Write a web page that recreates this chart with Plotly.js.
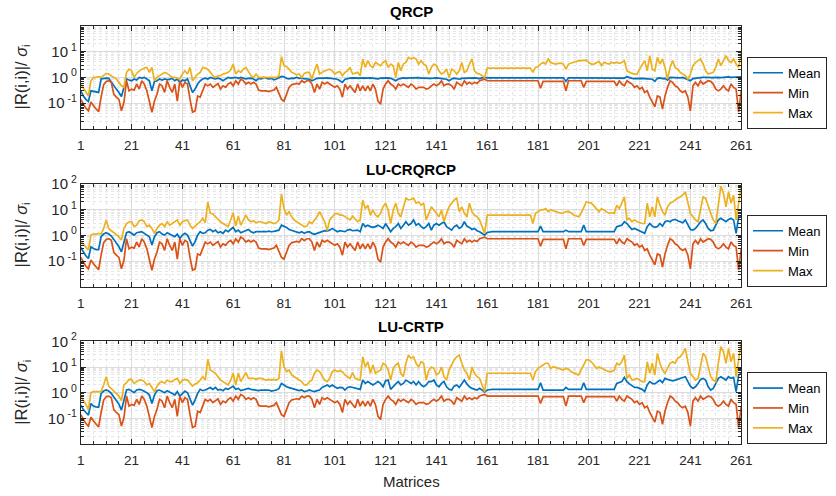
<!DOCTYPE html>
<html>
<head>
<meta charset="utf-8">
<script src="https://cdn.plot.ly/plotly-3.0.1.min.js"></script>
<style>html,body{margin:0;padding:0;background:#fff;}#chart{width:836px;height:496px;}</style>
</head>
<body>
<div id="chart"></div>
<script>
// ---- data ----
const subplotTitles = ["QRCP", "LU-CRQRCP", "LU-CRTP"];
const seriesNames = ["Mean", "Min", "Max"];
const xTickVals = [1, 21, 41, 61, 81, 101, 121, 141, 161, 181, 201, 221, 241, 261];

const minValues = [
0.14,0.09,0.063,0.05,0.11,0.079,0.063,0.046,0.17,0.52,
0.7,0.74,0.64,0.22,0.17,0.14,0.05,0.11,0.74,0.3,
0.35,0.32,0.55,0.35,0.74,0.55,0.3,0.11,0.044,0.12,
0.22,0.55,0.47,0.26,0.74,0.41,0.26,0.55,0.12,0.74,
0.41,0.64,0.55,0.14,0.044,0.05,0.19,0.17,0.3,0.55,
0.47,0.55,0.41,0.47,0.58,0.35,0.47,0.41,0.55,0.64,
0.47,0.74,0.55,0.86,0.74,0.55,0.64,0.55,0.64,0.55,
0.32,0.3,0.3,0.3,0.28,0.3,0.32,0.41,0.22,0.14,
0.12,0.22,0.41,0.52,0.55,0.58,0.55,0.74,0.64,0.74,
0.74,0.55,0.26,0.55,0.35,0.64,0.55,0.64,0.55,0.47,
0.41,0.47,0.35,0.17,0.55,0.35,0.47,0.35,0.26,0.55,
0.3,0.47,0.3,0.47,0.3,0.55,0.35,0.12,0.09,0.35,
0.55,0.74,0.55,0.47,0.35,0.55,0.47,0.55,0.47,0.41,
0.55,0.47,0.35,0.41,0.41,0.41,0.35,0.38,0.47,0.55,
0.47,0.55,0.74,0.47,0.55,0.55,0.47,0.35,0.64,0.55,
0.47,0.74,0.55,0.64,0.55,0.64,0.58,0.74,0.81,0.86,
0.74,0.74,0.74,0.74,0.74,0.74,0.74,0.74,0.74,0.74,
0.74,0.74,0.74,0.74,0.74,0.74,0.74,0.74,0.74,0.74,
0.74,0.38,0.7,0.7,0.7,0.7,0.7,0.7,0.7,0.7,
0.7,0.3,0.74,0.74,0.74,0.74,0.74,0.74,0.41,0.7,
0.7,0.7,0.7,0.7,0.7,0.7,0.7,0.7,0.7,0.7,
0.7,0.47,0.74,0.55,0.47,0.74,0.64,0.55,0.41,0.47,
0.35,0.41,0.26,0.3,0.17,0.11,0.072,0.19,0.17,0.059,
0.19,0.41,0.74,0.64,0.47,0.41,0.3,0.26,0.3,0.17,
0.05,0.47,0.64,0.47,0.74,0.55,0.64,0.74,0.7,0.55,
0.35,0.3,0.35,0.47,0.35,0.3,0.55,0.41,0.35,0.044,0.3
];

const meanQRCP = [
0.30,0.19,0.14,0.115,0.30,0.28,0.28,0.26,0.87,0.92,
0.94,0.92,0.64,0.47,0.35,0.26,0.18,0.41,0.87,0.79,
0.74,0.87,0.79,1.0,0.94,1.0,0.87,0.74,0.30,0.70,
0.74,0.87,0.79,0.87,0.81,0.87,0.92,0.74,0.87,0.64,
0.79,0.74,0.87,0.47,0.26,0.35,0.55,0.74,0.87,0.94,
0.87,1.0,0.92,0.87,0.94,0.87,0.74,0.87,1.0,0.94,
1.0,1.0,0.92,1.0,0.94,0.87,0.92,0.94,0.87,0.74,
0.92,0.87,1.0,0.92,0.87,0.92,0.81,0.87,0.94,1.09,
1.06,0.92,0.87,0.94,0.92,1.0,0.94,0.92,0.94,0.90,
0.85,0.74,0.85,0.92,0.94,0.92,0.94,0.96,0.94,0.92,
0.92,0.85,0.74,0.64,0.85,0.92,0.94,0.96,0.94,0.96,
0.94,0.96,0.92,0.94,0.96,0.94,0.92,0.87,0.94,0.96,
0.94,0.96,0.92,0.85,0.74,0.87,0.94,0.96,0.94,0.96,
0.98,0.94,0.96,0.98,0.94,0.96,0.94,0.92,0.96,0.94,
0.96,0.92,0.94,0.90,0.85,0.74,0.87,0.94,0.90,0.85,
0.92,0.94,0.96,0.92,0.94,0.96,0.94,0.90,0.96,1.0,
0.96,0.96,0.96,0.96,0.96,0.96,0.96,0.96,0.96,0.96,
0.96,0.96,0.96,0.96,0.96,0.96,0.96,0.96,0.96,0.96,
0.96,0.96,0.96,0.96,0.96,0.96,0.96,0.96,0.96,0.96,
0.96,0.70,0.96,0.96,0.96,0.96,0.96,0.96,0.96,0.96,
0.96,0.96,0.96,0.96,0.96,0.96,0.96,0.96,0.96,0.96,
0.96,0.96,0.98,0.96,0.94,1.06,0.96,0.92,0.90,0.92,
0.94,0.92,0.90,0.87,0.90,0.85,0.70,0.92,0.96,0.90,
0.92,0.78,1.0,0.98,0.96,0.98,0.96,1.0,0.92,0.80,
0.74,0.90,0.94,0.96,0.98,1.0,1.02,1.0,0.98,1.0,
0.96,1.0,0.98,1.02,1.0,1.04,1.0,1.02,1.06,1.02,1.06
];

const maxQRCP = [
0.55,0.38,0.26,0.19,0.74,1.0,1.0,1.06,1.0,1.16,
1.43,1.35,1.16,1.0,0.86,0.64,0.47,0.41,1.57,2.1,
1.8,1.0,1.43,1.8,2.1,2.3,2.45,1.57,2.45,0.74,
1.0,1.16,1.35,1.57,1.43,1.16,1.0,1.0,0.9,0.86,
1.35,1.8,1.35,2.45,0.74,1.0,1.35,1.57,2.45,2.3,
2.1,1.57,1.16,1.0,1.16,1.16,1.35,1.43,1.57,1.93,
3.3,1.35,1.8,1.57,2.1,2.45,1.57,1.16,1.0,1.35,
1.0,1.0,1.0,0.94,1.0,1.0,0.94,1.0,1.16,6.4,
2.85,2.6,2.1,1.57,1.43,1.27,1.35,1.0,1.43,1.57,
1.57,0.86,1.8,3.3,1.35,1.57,1.8,1.93,2.1,1.8,
1.35,1.57,1.7,1.16,1.57,1.8,2.45,1.35,1.43,1.57,
1.16,5.2,2.45,4.5,2.85,2.45,3.8,3.3,2.85,3.8,
4.5,2.45,3.3,2.85,1.0,3.8,1.8,3.3,3.8,6.0,
5.2,6.0,5.2,3.3,4.5,3.3,2.85,1.35,2.45,3.3,
2.85,1.8,1.35,1.57,2.1,1.0,2.1,1.8,1.35,1.8,
3.8,1.57,1.8,3.3,5.2,1.8,1.43,1.35,1.16,1.0,
2.3,2.3,2.3,2.3,2.3,2.3,2.3,2.3,2.3,2.3,
2.3,2.3,2.3,2.3,2.3,2.3,2.3,2.3,1.57,2.45,
2.6,3.3,3.8,3.3,5.2,3.8,3.5,3.3,3.5,3.6,
3.3,2.1,3.3,3.6,3.8,4.1,4.5,4.5,4.7,4.7,
3.8,3.3,3.3,3.6,4.2,2.85,3.8,3.5,3.3,3.8,
3.6,3.8,3.5,3.8,4.5,1.8,1.57,1.43,1.35,1.35,
2.1,3.3,4.5,1.8,7.0,2.1,1.8,6.0,3.3,5.2,
2.45,0.86,2.45,4.5,2.45,2.1,1.57,1.35,1.16,0.86,
1.35,2.85,3.8,4.5,5.2,3.3,1.8,1.35,1.43,1.57,
2.45,5.2,2.85,4.5,7.0,4.5,3.8,5.2,3.3,2.45,8.6
];

const meanCRQRCP = [
0.34,0.23,0.16,0.126,0.36,0.31,0.28,0.28,0.89,1.13,
1.27,1.13,0.94,0.7,0.52,0.36,0.23,0.57,1.27,1.39,
1.2,1.03,1.27,1.35,1.39,1.2,1.03,0.89,0.42,0.89,
1.27,1.39,1.13,1.03,1.27,1.13,1.03,0.89,1.13,0.76,
1.03,1.2,1.03,0.66,0.38,0.57,1.03,1.39,1.2,1.27,
1.6,1.7,1.39,1.6,1.27,1.39,1.2,1.6,1.39,1.7,
2.05,1.39,1.6,1.27,1.39,1.6,1.7,1.39,1.27,1.39,
1.35,1.39,1.43,1.39,1.47,1.39,1.43,1.52,1.6,2.5,
2.3,2.05,1.7,1.6,1.52,1.39,1.27,1.39,1.2,1.35,
1.39,1.2,1.1,1.2,1.27,1.39,1.52,1.5,1.6,1.87,
1.6,1.39,1.52,1.47,1.39,1.6,1.7,1.52,1.52,1.6,
1.39,2.9,2.2,2.5,2.2,2.05,2.2,2.5,2.2,1.87,
2.9,2.05,1.39,1.87,2.2,2.9,1.87,2.5,3.4,2.5,
2.9,4.0,2.5,2.9,2.2,1.87,2.2,2.9,1.6,2.5,
2.9,2.5,2.9,3.4,2.2,1.87,1.6,2.2,2.5,1.87,
2.2,3.4,2.3,2.05,1.7,1.87,1.52,1.39,1.2,1.03,
1.3,1.39,1.39,1.39,1.39,1.39,1.39,1.39,1.39,1.39,
1.39,1.39,1.39,1.39,1.39,1.39,1.39,1.39,1.39,1.39,
1.39,2.3,1.39,1.39,1.39,1.39,1.39,1.39,1.39,1.39,
1.39,1.6,1.39,1.39,1.39,1.39,1.39,1.39,2.5,1.39,
1.39,1.39,1.39,1.39,1.39,1.39,1.39,1.39,1.39,1.39,
1.39,2.2,2.3,2.5,3.4,2.9,2.2,1.7,1.87,1.7,
1.52,1.39,1.2,2.2,2.9,2.3,2.05,2.2,2.9,2.3,
3.4,3.7,3.4,4.0,4.2,3.7,3.4,3.1,4.0,2.5,
1.7,1.6,1.87,2.5,3.4,4.0,2.9,1.87,1.52,1.6,
2.5,4.0,4.6,4.0,3.4,4.2,4.6,4.0,1.2,5.3,5.6
];

const maxCRQRCP = [
0.6,0.46,0.34,0.27,1.03,1.13,1.13,1.2,1.13,1.87,
4.0,1.87,1.52,1.27,1.03,0.89,0.66,1.87,2.8,3.4,
3.4,2.2,2.5,3.7,4.0,3.4,2.2,2.5,1.87,1.2,
1.87,2.5,2.9,2.2,3.4,2.5,2.9,3.4,4.0,2.5,
3.4,3.7,4.0,2.5,1.87,2.3,2.8,3.4,4.6,3.1,
20,7.2,6.8,5.3,4.2,3.4,2.9,2.5,2.2,4.0,
7.6,2.3,5.6,2.5,4.0,6.2,4.0,3.4,3.7,3.1,
3.4,3.4,3.1,2.9,3.4,3.1,2.9,3.1,4.0,41,
11,6.2,8.4,5.3,4.0,3.4,2.9,2.5,2.2,2.3,
3.4,2.9,4.0,5.3,8.4,5.3,3.4,1.55,4.0,5.3,
6.8,7.2,6.2,6.2,5.3,4.6,4.0,5.6,4.2,3.4,
4.0,24,11,15,6.2,9.7,6.2,5.3,7.2,13,
18,9.7,2.9,9.7,18,7.2,5.3,13,28,24,
25,28,18,20,15,18,4.0,7.2,13,9.7,
7.2,5.3,9.7,3.4,7.2,13,18,24,28,8.4,
13,7.2,5.3,18,8.4,6.2,5.3,4.0,2.2,1.2,
6.2,6.2,6.2,6.2,6.2,6.2,6.2,6.2,6.2,6.2,
6.2,6.2,6.2,6.2,6.2,6.2,6.2,6.2,2.9,7.2,
8.4,9.7,10,11,8.4,9.7,9.1,8.4,7.6,7.2,
7.6,8.4,8.4,7.6,6.2,5.6,5.3,7.2,13,20,
19,18,14,11,8.4,11,9.7,8.4,7.2,7.6,
7.2,15,11,18,32,4.0,4.6,3.4,4.0,3.4,
3.1,2.9,2.9,18,5.3,13,5.3,32,15,8.4,
6.2,13,18,20,24,28,32,37,50,18,
7.2,5.3,4.0,3.4,9.7,32,28,13,7.2,4.0,
2.9,15,83,43,13,50,18,37,4.0,18,79
];

const meanCRTP = [
0.33,0.22,0.17,0.135,0.38,0.3,0.28,0.27,0.94,1.16,
1.27,1.16,0.94,0.7,0.52,0.36,0.21,0.6,1.27,1.35,
1.2,1.0,1.27,1.35,1.27,1.16,1.0,0.81,0.38,0.81,
1.2,1.27,1.1,1.0,1.2,1.1,0.94,0.81,1.1,0.74,
0.94,1.16,1.0,0.6,0.33,0.52,0.94,1.35,1.2,1.27,
1.47,1.6,1.35,1.6,1.27,1.35,1.2,1.47,1.35,1.6,
1.8,1.35,1.47,1.2,1.27,1.43,1.47,1.35,1.27,1.27,
1.2,1.27,1.27,1.2,1.27,1.16,1.2,1.27,1.43,2.3,
2.0,1.7,1.57,1.47,1.35,1.27,1.2,1.27,1.1,1.16,
1.27,1.16,1.1,1.2,1.27,1.6,1.8,2.0,1.7,2.0,
1.7,1.47,1.6,1.57,1.27,1.6,1.7,1.6,1.47,1.43,
1.35,3.1,2.3,2.7,2.3,2.0,2.3,2.7,2.3,1.7,
2.9,3.1,1.35,1.8,2.2,2.7,2.0,2.3,3.1,2.7,
2.3,2.7,2.0,2.7,2.0,1.7,2.0,2.7,2.7,3.1,
2.0,1.7,2.3,2.7,1.7,1.35,1.27,1.8,2.0,1.6,
2.3,3.1,2.2,1.7,1.47,1.35,1.27,1.47,1.2,1.06,
1.27,1.35,1.35,1.35,1.35,1.35,1.35,1.35,1.35,1.35,
1.35,1.35,1.35,1.35,1.35,1.35,1.35,1.35,1.35,1.35,
1.35,2.45,1.27,1.27,1.27,1.27,1.27,1.27,1.27,1.27,
1.27,1.6,1.35,1.35,1.35,1.35,1.35,1.35,2.45,1.35,
1.35,1.35,1.35,1.35,1.35,1.35,1.35,1.35,1.35,1.35,
1.35,2.3,2.5,2.7,3.95,2.7,2.2,1.8,1.6,1.6,
1.47,1.35,1.1,2.0,2.7,2.3,2.2,2.7,3.1,2.45,
3.6,3.3,3.1,2.9,3.1,3.3,3.6,3.95,4.2,2.7,
1.8,1.47,1.7,2.3,3.3,3.6,3.1,1.7,1.27,1.47,
2.3,3.6,4.2,3.6,3.1,4.2,3.6,3.95,1.1,4.9,5.7
];

const maxCRTP = [
0.7,0.52,0.36,0.22,1.0,1.1,1.1,1.16,1.1,2.0,
4.2,1.8,1.47,1.2,0.94,0.74,0.49,2.0,2.45,3.3,
3.3,2.3,2.7,3.1,3.1,2.7,2.0,2.3,1.6,1.1,
1.8,2.45,2.7,2.3,3.1,2.7,2.7,3.3,3.6,2.3,
3.1,3.3,3.1,2.3,1.8,2.2,2.45,3.1,4.2,3.1,
20,7.6,6.6,5.7,4.2,3.1,2.7,2.3,2.0,3.1,
5.7,2.0,5.7,2.7,4.2,6.0,3.6,3.6,3.6,3.3,
3.6,3.6,3.3,3.1,3.3,3.1,3.3,3.1,3.6,43,
10,6.6,7.6,4.9,4.2,3.6,3.1,2.7,2.0,2.0,
2.7,3.1,5.7,7.6,6.6,4.2,3.1,2.7,3.6,6.6,
7.6,6.6,7.2,6.6,4.9,4.2,3.6,6.0,3.6,3.3,
3.1,25,10,16,5.7,12,5.7,6.6,7.6,14,
12,7.6,3.1,8.9,12,14,5.7,4.2,14,29,
22,25,14,10,16,14,3.1,7.6,10,8.9,
4.9,5.7,10,4.2,3.1,7.6,12,19,25,29,
14,7.6,5.7,3.1,10,5.7,4.2,3.6,2.0,1.1,
5.7,5.7,5.7,5.7,5.7,5.7,5.7,5.7,5.7,5.7,
5.7,5.7,5.7,5.7,5.7,5.7,5.7,5.7,3.1,6.6,
8.9,10,12,14,14,8.9,10,9.7,8.9,8.1,
7.6,8.9,8.1,6.6,5.7,5.3,4.9,7.6,12,19,
19,16,12,8.9,10,8.9,7.6,7.2,6.6,6.6,
7.6,14,12,16,29,3.6,4.9,3.1,3.3,3.6,
3.1,2.7,2.7,16,5.7,14,4.9,34,14,7.6,
5.7,8.9,14,16,14,22,25,34,53,16,
5.7,4.2,3.1,3.6,10,34,25,10,4.2,3.1,
2.7,14,62,40,14,53,16,34,4.2,19,84
];

// ---- chart construction ----
const matrixIndex = meanQRCP.map((_, k) => k + 1);
const colors = ["#0072BD", "#D95319", "#EDB120"];
const panels = [
  {mean: meanQRCP, min: minValues, max: maxQRCP, ticks: [0.1, 1, 10]},
  {mean: meanCRQRCP, min: minValues, max: maxCRQRCP, ticks: [0.1, 1, 10, 100]},
  {mean: meanCRTP, min: minValues, max: maxCRTP, ticks: [0.1, 1, 10, 100]}
];
const expLabel = v => "10<sup> " + Math.round(Math.log10(v)) + "</sup>";

const W = 836, H = 496;
const plotLeft = 80.8, plotRight = 741.2;
const panelTop = [26, 184, 341.3], panelBottom = [128.8, 286.8, 444.1];
const px = x => x / W, py = y => 1 - y / H;

const FONT = "'Liberation Sans', Arial, Helvetica, sans-serif";
const INK = "#262626";

const traces = [];
const layout = {
  width: W, height: H,
  margin: {l: 0, r: 0, t: 0, b: 0},
  paper_bgcolor: "#ffffff", plot_bgcolor: "#ffffff",
  font: {family: FONT, size: 13, color: INK},
  annotations: [],
  showlegend: true
};

panels.forEach((p, k) => {
  const n = k === 0 ? "" : String(k + 1);
  const xa = "x" + n, ya = "y" + n;
  const leg = "legend" + n;
  [p.mean, p.min, p.max].forEach((vals, s) => {
    traces.push({
      type: "scatter", mode: "lines",
      x: matrixIndex, y: vals,
      xaxis: xa, yaxis: ya,
      name: seriesNames[s],
      legend: leg,
      line: {color: colors[s], width: 1.7},
      hoverinfo: "skip"
    });
  });
  layout["xaxis" + n] = {
    domain: [px(plotLeft), px(plotRight)],
    anchor: ya,
    range: [1, 261],
    tickmode: "array", tickvals: xTickVals,
    ticks: "inside", ticklen: 5, tickwidth: 1, tickcolor: INK,
    showline: true, linecolor: INK, linewidth: 1, mirror: "ticks",
    showgrid: true, gridcolor: "#dcdcdc", gridwidth: 1,
    zeroline: false,
    tickfont: {family: FONT, size: 13.5, color: INK},
    ticklabelstandoff: 4,
    minor: {tick0: 1, dtick: 5, ticks: "inside", ticklen: 3, tickcolor: INK,
            showgrid: true, gridcolor: "#e6e6e6", griddash: "dot", gridwidth: 1}
  };
  layout["yaxis" + n] = {
    domain: [py(panelBottom[k]), py(panelTop[k])],
    anchor: xa,
    type: "log", range: [-2, 2],
    tickmode: "array", tickvals: p.ticks, ticktext: p.ticks.map(expLabel),
    ticks: "inside", ticklen: 5, tickwidth: 1, tickcolor: INK,
    showline: true, linecolor: INK, linewidth: 1, mirror: "ticks",
    showgrid: true, gridcolor: "#dcdcdc", gridwidth: 1,
    zeroline: false,
    tickfont: {family: FONT, size: 15, color: INK},
    minor: {dtick: "D1", ticks: "inside", ticklen: 3, tickcolor: INK,
            showgrid: true, gridcolor: "#e6e6e6", griddash: "dot", gridwidth: 1}
  };
  layout[leg] = {
    x: px(747), xanchor: "left",
    y: py(panelBottom[k]), yanchor: "bottom",
    bgcolor: "#ffffff", bordercolor: INK, borderwidth: 1,
    font: {family: FONT, size: 13, color: "#000000"},
    tracegroupgap: 0, itemwidth: 30
  };
  layout.annotations.push({
    text: "<b>" + subplotTitles[k] + "</b>",
    xref: "paper", yref: "paper",
    x: px((plotLeft + plotRight) / 2), y: py(panelTop[k] - 15),
    xanchor: "center", yanchor: "middle", showarrow: false,
    font: {family: FONT, size: 15, color: "#000000"}
  });
  layout.annotations.push({
    text: "|R(i,i)|/ <i>σ</i><sub>i</sub>",
    xref: "paper", yref: "paper",
    x: px(22), y: py((panelTop[k] + panelBottom[k]) / 2),
    xanchor: "center", yanchor: "middle", textangle: -90, showarrow: false,
    font: {family: FONT, size: 16.5, color: INK}
  });
});

layout.annotations.push({
  text: "Matrices", xref: "paper", yref: "paper",
  x: px((plotLeft + plotRight) / 2), y: py(481),
  xanchor: "center", yanchor: "middle", showarrow: false,
  font: {family: FONT, size: 15, color: INK}
});

Plotly.newPlot("chart", traces, layout, {displayModeBar: false, staticPlot: true});
</script>
</body>
</html>
